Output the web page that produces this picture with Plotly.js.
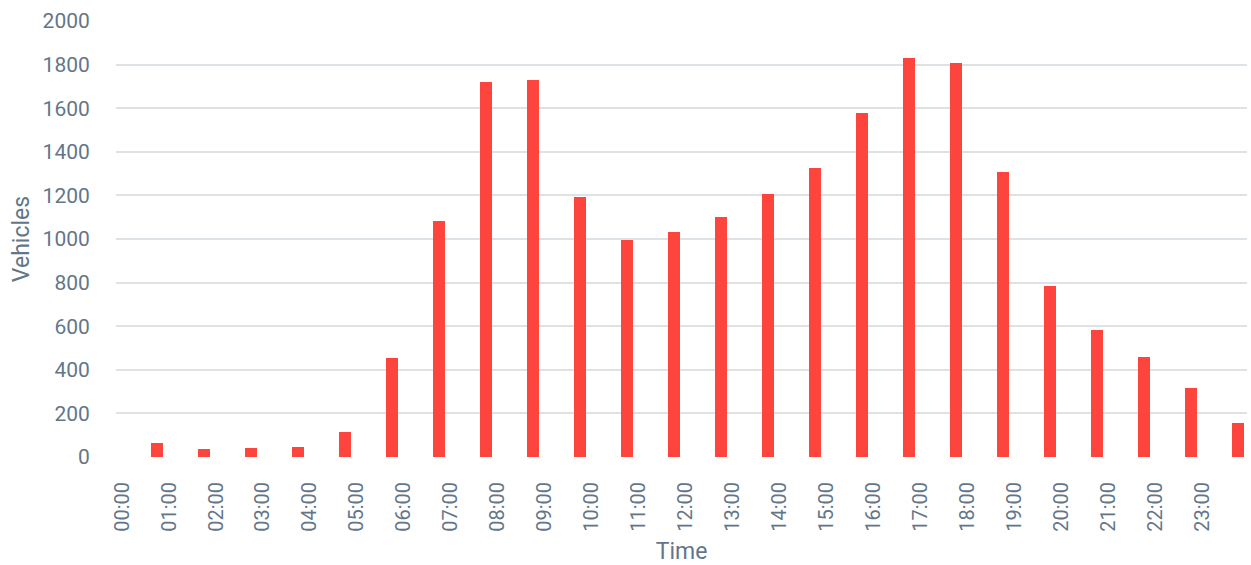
<!DOCTYPE html>
<html>
<head>
<meta charset="utf-8">
<script src="https://cdn.plot.ly/plotly-3.0.1.min.js"></script>
<style>html,body{margin:0;padding:0;background:#fff;}#chart{width:1251px;height:565px;}</style>
</head>
<body>
<div id="chart"></div>
<script>
const hours = [0,1,2,3,4,5,6,7,8,9,10,11,12,13,14,15,16,17,18,19,20,21,22,23];
const hourLabels = ["00:00","01:00","02:00","03:00","04:00","05:00","06:00","07:00","08:00","09:00","10:00","11:00","12:00","13:00","14:00","15:00","16:00","17:00","18:00","19:00","20:00","21:00","22:00","23:00"];
const vehicles = [66,37,40,47,113,454,1081,1718,1728,1194,995,1032,1101,1208,1328,1577,1829,1806,1307,784,583,459,318,156];
const yTicks = [0,200,400,600,800,1000,1200,1400,1600,1800,2000];

const textColor = "#637689";
const font = "Roboto, 'Open Sans', sans-serif";

const trace = {
  type: "bar",
  x: hours,
  y: vehicles,
  width: 0.25,
  offset: 0.625,
  marker: {color: "#fd453d"},
  hoverinfo: "y"
};

const layout = {
  width: 1251,
  height: 565,
  margin: {l: 116, r: 4, t: 21, b: 108},
  paper_bgcolor: "#ffffff",
  plot_bgcolor: "#ffffff",
  showlegend: false,
  font: {family: font, color: textColor, size: 20},
  xaxis: {
    range: [-0.128, 23.94],
    tickvals: hours,
    ticktext: hourLabels,
    tickangle: -90,
    ticks: "outside",
    ticklen: 16,
    tickcolor: "rgba(0,0,0,0)",
    showgrid: false,
    zeroline: false,
    showline: false,
    tickfont: {family: font, size: 20, color: textColor},
    title: {text: "Time", font: {family: font, size: 23, color: textColor}, standoff: 14}
  },
  yaxis: {
    range: [0, 2000],
    tickvals: yTicks,
    ticks: "outside",
    ticklen: 21,
    tickcolor: "rgba(0,0,0,0)",
    showgrid: true,
    gridcolor: "#dde2e7",
    gridwidth: 2,
    zeroline: false,
    showline: false,
    tickfont: {family: font, size: 21, color: textColor},
    title: {text: "Vehicles", font: {family: font, size: 23, color: textColor}, standoff: 6}
  },
  bargap: 0
};

Plotly.newPlot("chart", [trace], layout, {displayModeBar: false, staticPlot: true});
</script>
</body>
</html>
